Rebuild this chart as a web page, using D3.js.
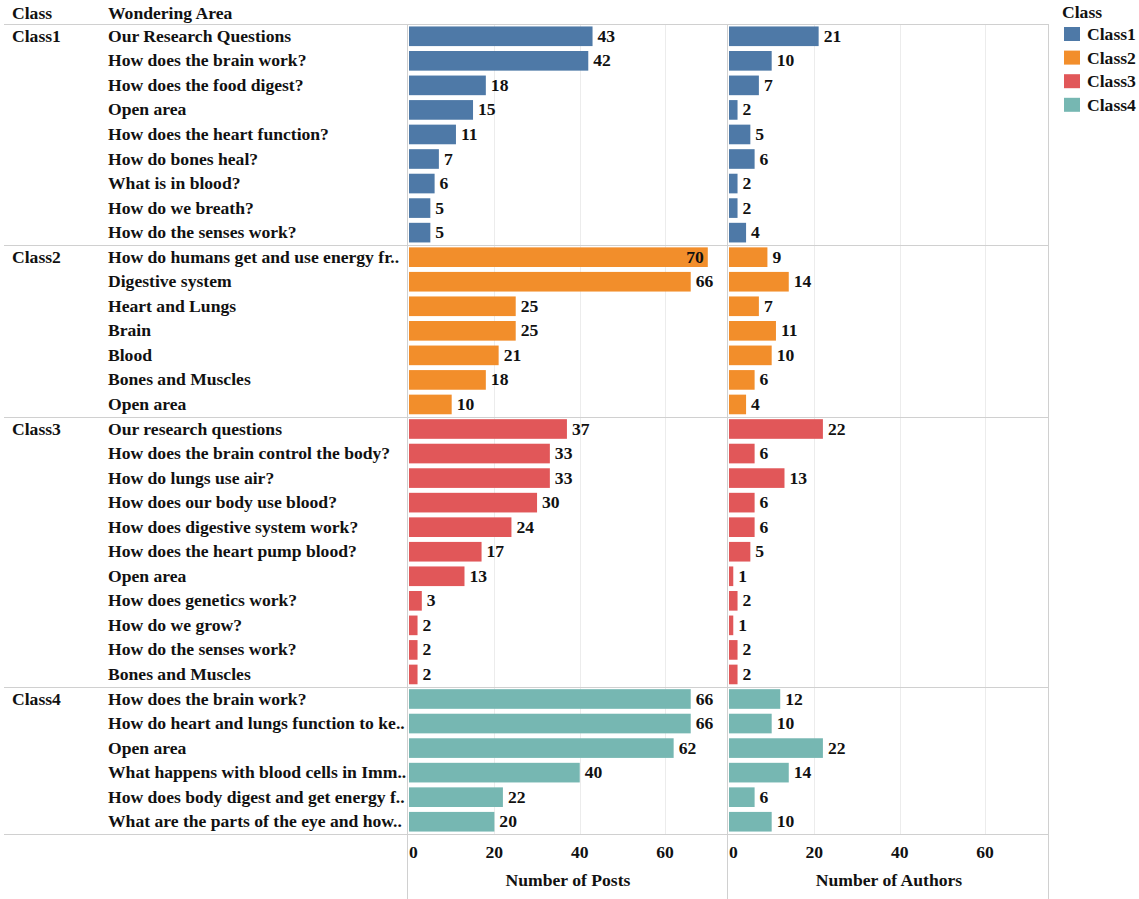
<!DOCTYPE html>
<html><head><meta charset="utf-8">
<script src="https://cdn.jsdelivr.net/npm/d3@7"></script>
<style>body{margin:0;background:#fff}svg text{font-family:"Liberation Serif","Times New Roman",serif;font-weight:bold;fill:#111}</style>
</head><body><svg id="c" width="1139" height="899"></svg>
<script>
const classes = ["Class1","Class2","Class3","Class4"];
const colors = ["#4e79a7","#f28e2b","#e15759","#76b7b2"];
const areas1 = ["Our Research Questions","How does the brain work?","How does the food digest?","Open area","How does the heart function?","How do bones heal?","What is in blood?","How do we breath?","How do the senses work?"];
const posts1 = [43,42,18,15,11,7,6,5,5];
const authors1 = [21,10,7,2,5,6,2,2,4];
const areas2 = ["How do humans get and use energy fr..","Digestive system","Heart and Lungs","Brain","Blood","Bones and Muscles","Open area"];
const posts2 = [70,66,25,25,21,18,10];
const authors2 = [9,14,7,11,10,6,4];
const areas3 = ["Our research questions","How does the brain control the body?","How do lungs use air?","How does our body use blood?","How does digestive system work?","How does the heart pump blood?","Open area","How does genetics work?","How do we grow?","How do the senses work?","Bones and Muscles"];
const posts3 = [37,33,33,30,24,17,13,3,2,2,2];
const authors3 = [22,6,13,6,6,5,1,2,1,2,2];
const areas4 = ["How does the brain work?","How do heart and lungs function to ke..","Open area","What happens with blood cells in Imm..","How does body digest and get energy f..","What are the parts of the eye and how.."];
const posts4 = [66,66,62,40,22,20];
const authors4 = [12,10,22,14,6,10];
const xTicks = [0,20,40,60];

const groups = [[areas1,posts1,authors1],[areas2,posts2,authors2],[areas3,posts3,authors3],[areas4,posts4,authors4]];
const rows = [];
groups.forEach((g,gi)=>g[0].forEach((a,i)=>rows.push({cls:classes[gi],ci:gi,first:i===0,area:a,posts:g[1][i],authors:g[2][i],key:gi+"-"+i})));

const FS = 17.6;
const svg = d3.select("#c");
const pTop = 24, pBottom = 834, pLeft = 4, pRight = 1048;
const y = d3.scaleBand().domain(rows.map(r=>r.key)).range([pTop,pBottom]).paddingInner(0.2).paddingOuter(0.1);
const y0 = d3.scaleBand().domain(rows.map(r=>r.key)).range([pTop,pBottom]);
const px = d3.scaleLinear().domain([0,74.5]).range([409,727]);
const ax = d3.scaleLinear().domain([0,74.5]).range([729,1047]);
const lineC = "#d0d0d0";

// gridlines
[px,ax].forEach(s=>{
  svg.append("g").selectAll("line").data(xTicks.filter(t=>t>0)).join("line")
    .attr("x1",d=>Math.round(s(d))+0.5).attr("x2",d=>Math.round(s(d))+0.5).attr("y1",pTop).attr("y2",pBottom)
    .attr("stroke","#ececec").attr("stroke-width",1);
});

// headers
svg.append("text").attr("x",12).attr("y",19).attr("font-size",FS).text("Class");
svg.append("text").attr("x",108).attr("y",19).attr("font-size",FS).text("Wondering Area");

// group separators
const seps = [pTop];
rows.forEach((r,i)=>{ if(r.first && i>0) seps.push(Math.round(y0(r.key))); });
seps.push(pBottom);
svg.append("g").selectAll("line").data(seps).join("line")
  .attr("x1",pLeft).attr("x2",pRight).attr("y1",d=>d+0.5).attr("y2",d=>d+0.5)
  .attr("stroke",lineC).attr("stroke-width",1);
// vertical borders
[407.5,727.5,1048.5].forEach(x=>{
  svg.append("line").attr("x1",x).attr("x2",x).attr("y1",pTop).attr("y2",899).attr("stroke",lineC);
});

// row labels
const cy = r => y0(r.key)+y0.bandwidth()/2+5.5;
svg.append("g").selectAll("text").data(rows.filter(r=>r.first)).join("text")
  .attr("x",12).attr("y",cy).attr("font-size",FS).text(d=>d.cls);
svg.append("g").selectAll("text").data(rows).join("text")
  .attr("x",108).attr("y",cy).attr("font-size",FS).text(d=>d.area);

// bars
function panel(s, field, maxX){
  const g = svg.append("g");
  g.selectAll("rect").data(rows).join("rect")
    .attr("x",s(0)).attr("y",d=>y(d.key)).attr("width",d=>s(d[field])-s(0)).attr("height",y.bandwidth())
    .attr("fill",d=>colors[d.ci]);
  g.selectAll("text").data(rows).join("text")
    .attr("font-size",FS).attr("y",cy)
    .each(function(d){
      const t = d3.select(this).text(d[field]);
      const w = this.getComputedTextLength();
      const end = s(d[field]);
      if(end+5+w > maxX){ t.attr("x",end-4).attr("text-anchor","end"); }
      else t.attr("x",end+5);
    });
  const a = svg.append("g").attr("transform","translate(0,846)");
  a.selectAll("text").data(xTicks).join("text")
    .attr("x",d=>s(d)).attr("y",12).attr("font-size",FS)
    .attr("text-anchor",d=>d===0?"start":"middle").text(d=>d);
}
panel(px,"posts",727);
panel(ax,"authors",1048);
svg.append("text").attr("x",568).attr("y",886).attr("text-anchor","middle").attr("font-size",FS).text("Number of Posts");
svg.append("text").attr("x",889).attr("y",886).attr("text-anchor","middle").attr("font-size",FS).text("Number of Authors");

// legend
const lg = svg.append("g");
lg.append("text").attr("x",1062).attr("y",18).attr("font-size",FS).text("Class");
lg.selectAll("rect").data(classes).join("rect")
  .attr("x",1064).attr("y",(d,i)=>27+i*23.6).attr("width",16).attr("height",14)
  .attr("fill",(d,i)=>colors[i]);
lg.selectAll("text.l").data(classes).join("text").attr("class","l")
  .attr("x",1087).attr("y",(d,i)=>40+i*23.6).attr("font-size",FS).text(d=>d);
</script></body></html>
